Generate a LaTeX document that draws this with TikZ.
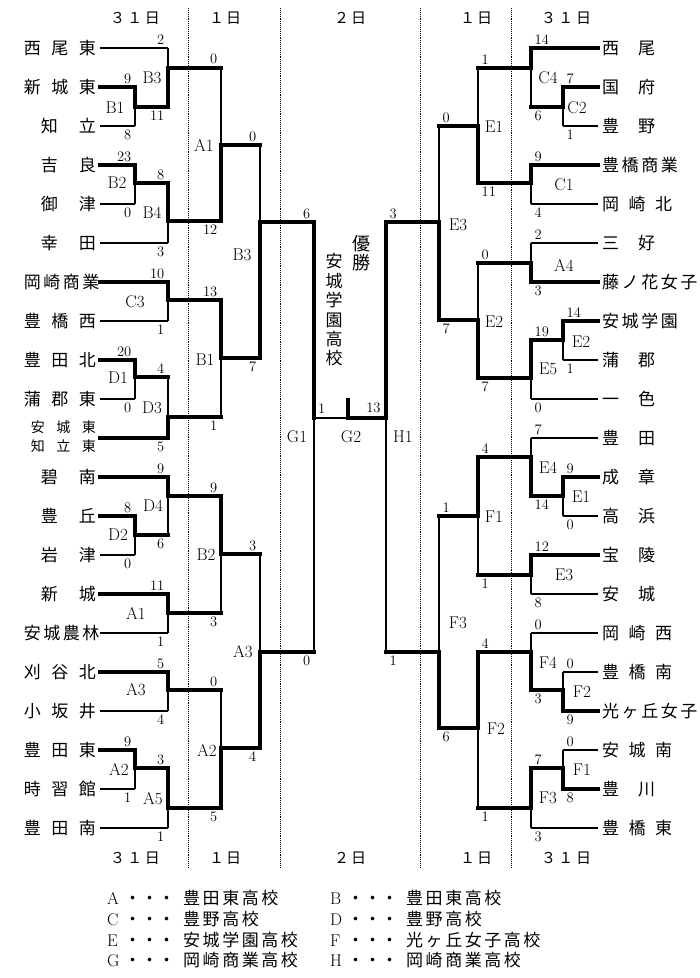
\documentclass[tikz,border=0pt]{standalone}
\usepackage{fontspec}
\usepackage{tikz}
\newfontfamily\jp{Noto Sans CJK JP}
\newcommand\spread[2]{\makebox[#1][s]{#2}}
\newcommand\twoline[2]{\begin{tabular}{@{}r@{}}#1\\#2\end{tabular}}
\newcommand\keyline[3]{\makebox[14pt][l]{#1}\hspace{3pt}{\jp ・・・}\hspace{8pt}{\jp\spread{#2}{#3}}}
% one leg of a bout: horizontal, then vertical into the bout, score at the corner
\newcommand\seg[6]{%
  \draw[#1] (#3) -- (#3 -| #4) coordinate (k-#3-#4);
  \draw[#2] (k-#3-#4) -- (#4);
  \node[score,anchor=#5] (s-#3-#4) at (k-#3-#4) {#6};}

\begin{document}
\begin{tikzpicture}[x=1pt,y=-1pt,
    heavy/.style={line width=4pt,line cap=rect},
    light/.style={line width=1.2pt},
    lname/.style={anchor=east,inner xsep=4pt,inner ysep=0pt,font=\jp\fontsize{17}{17}\selectfont},
    rname/.style={lname,anchor=west},
    score/.style={inner xsep=3.5pt,inner ysep=3.5pt,font=\fontsize{14.5}{14.5}\selectfont},
    mlabel/.style={inner sep=0pt,font=\fontsize{17}{17}\selectfont},
    day/.style={inner sep=0pt,font=\jp\fontsize{15}{15}\selectfont},
    sep/.style={densely dotted,line width=0.9pt},
    key/.style={anchor=west,inner sep=0pt,font=\fontsize{17}{17}\selectfont}
  ]
  \path[fill=white] (0,0) rectangle (700,978);

  % day columns
  \foreach \x in {188,280,420,511}
    \draw[sep] (\x,8) -- (\x,868);
  \foreach \y/\s in {18/t,858/b} {
    \node[day] (d31l\s) at (135,\y) {\spread{50pt}{３ １ 日}};
    \node[day] (d1l\s) at (225,\y) {\spread{32pt}{１ 日}};
    \node[day] (d2\s) at (350,\y) {\spread{32pt}{２ 日}};
    \node[day] (d1r\s) at (476,\y) {\spread{32pt}{１ 日}};
    \node[day] (d31r\s) at (566,\y) {\spread{50pt}{３ １ 日}};
  }

  % teams
  \foreach \t [count=\i from 0] in {{\spread{72pt}{西 尾 東}},{\spread{72pt}{新 城 東}},
      {\spread{55pt}{知 立}},{\spread{55pt}{吉 良}},{\spread{55pt}{御 津}},{\spread{55pt}{幸 田}},
      {\spread{72pt}{岡 崎 商 業}},{\spread{72pt}{豊 橋 西}},{\spread{72pt}{豊 田 北}},
      {\spread{72pt}{蒲 郡 東}},{\fontsize{14}{19}\selectfont\twoline{\spread{65pt}{安 城 東}}{\spread{65pt}{知 立 東}}},
      {\spread{55pt}{碧 南}},{\spread{55pt}{豊 丘}},{\spread{55pt}{岩 津}},{\spread{55pt}{新 城}},
      {\spread{72pt}{安 城 農 林}},{\spread{72pt}{刈 谷 北}},{\spread{72pt}{小 坂 井}},
      {\spread{72pt}{豊 田 東}},{\spread{72pt}{時 習 館}},{\spread{72pt}{豊 田 南}}}
    \node[lname] (l\i) at (100,48+39*\i) {\t};
  \foreach \t [count=\i from 0] in {{\spread{53pt}{西 尾}},{\spread{53pt}{国 府}},{\spread{53pt}{豊 野}},
      {\spread{73pt}{豊 橋 商 業}},{\spread{70pt}{岡 崎 北}},{\spread{53pt}{三 好}},
      {\spread{90pt}{藤 ノ 花 女 子}},{\spread{72pt}{安 城 学 園}},{\spread{53pt}{蒲 郡}},
      {\spread{53pt}{一 色}},{\spread{53pt}{豊 田}},{\spread{53pt}{成 章}},{\spread{53pt}{高 浜}},
      {\spread{53pt}{宝 陵}},{\spread{53pt}{安 城}},{\spread{70pt}{岡 崎 西}},{\spread{70pt}{豊 橋 南}},
      {\spread{81pt}{光 ヶ 丘 女 子}},{\spread{70pt}{安 城 南}},{\spread{53pt}{豊 川}},{\spread{70pt}{豊 橋 東}}}
    \node[rname] (r\i) at (598,48+39*\i) {\t};

  % bouts, left half
  \coordinate (lB1a) at (135,107);  \coordinate (lB2a) at (135,183);
  \coordinate (lB3a) at (168,68);   \coordinate (lB4a) at (168,221);
  \coordinate (lC3a) at (168,300);  \coordinate (lD1a) at (135,377);
  \coordinate (lD3a) at (168,417);  \coordinate (lD2a) at (135,535);
  \coordinate (lD4a) at (168,496);  \coordinate (lA1a) at (168,613);
  \coordinate (lA3a) at (168,690);  \coordinate (lA2a) at (135,768);
  \coordinate (lA5a) at (168,808);
  \coordinate (lA1b) at (221,145);  \coordinate (lB1b) at (221,358);
  \coordinate (lB2b) at (221,554);  \coordinate (lA2b) at (221,748);
  \coordinate (lB3b) at (260,222);  \coordinate (lA3b) at (260,652);
  \coordinate (G1) at (314,418);
  % bouts, right half
  \coordinate (rC2a) at (563,107);  \coordinate (rC4a) at (531,68);
  \coordinate (rC1a) at (531,183);  \coordinate (rA4a) at (531,263);
  \coordinate (rE2a) at (563,340);  \coordinate (rE5a) at (531,378);
  \coordinate (rE1a) at (563,496);  \coordinate (rE4a) at (531,457);
  \coordinate (rE3a) at (531,575);  \coordinate (rF2a) at (563,690);
  \coordinate (rF4a) at (531,652);  \coordinate (rF1a) at (563,768);
  \coordinate (rF3a) at (531,808);
  \coordinate (rE1b) at (478,126);  \coordinate (rE2b) at (478,320);
  \coordinate (rF1b) at (478,516);  \coordinate (rF2b) at (478,728);
  \coordinate (rE3b) at (439,222);  \coordinate (rF3b) at (439,652);
  \coordinate (H1) at (386,418);
  \coordinate (G2) at (348,418);    \coordinate (G2top) at (348,400);

  \seg{light}{light}{l0}{lB3a}{south east}{2}
  \seg{heavy}{heavy}{l1}{lB1a}{south east}{9}
  \seg{light}{light}{l2}{lB1a}{north east}{8}
  \seg{heavy}{heavy}{lB1a}{lB3a}{north east}{11}
  \seg{heavy}{heavy}{l3}{lB2a}{south east}{23}
  \seg{light}{light}{l4}{lB2a}{north east}{0}
  \seg{heavy}{heavy}{lB2a}{lB4a}{south east}{8}
  \seg{light}{light}{l5}{lB4a}{north east}{3}
  \seg{heavy}{light}{lB3a}{lA1b}{south east}{0}
  \seg{heavy}{heavy}{lB4a}{lA1b}{north east}{12}
  \seg{heavy}{heavy}{l6}{lC3a}{south east}{10}
  \seg{light}{light}{l7}{lC3a}{north east}{1}
  \seg{heavy}{heavy}{l8}{lD1a}{south east}{20}
  \seg{light}{light}{l9}{lD1a}{north east}{0}
  \seg{heavy}{light}{lD1a}{lD3a}{south east}{4}
  \seg{heavy}{heavy}{l10}{lD3a}{north east}{5}
  \seg{heavy}{heavy}{lC3a}{lB1b}{south east}{13}
  \seg{heavy}{light}{lD3a}{lB1b}{north east}{1}
  \seg{heavy}{light}{lA1b}{lB3b}{south east}{0}
  \seg{heavy}{heavy}{lB1b}{lB3b}{north east}{7}
  \seg{heavy}{heavy}{l11}{lD4a}{south east}{9}
  \seg{heavy}{heavy}{l12}{lD2a}{south east}{8}
  \seg{light}{light}{l13}{lD2a}{north east}{0}
  \seg{heavy}{light}{lD2a}{lD4a}{north east}{6}
  \seg{heavy}{heavy}{l14}{lA1a}{south east}{11}
  \seg{light}{light}{l15}{lA1a}{north east}{1}
  \seg{heavy}{heavy}{lD4a}{lB2b}{south east}{9}
  \seg{heavy}{light}{lA1a}{lB2b}{north east}{3}
  \seg{heavy}{heavy}{l16}{lA3a}{south east}{5}
  \seg{light}{light}{l17}{lA3a}{north east}{4}
  \seg{heavy}{heavy}{l18}{lA2a}{south east}{9}
  \seg{light}{light}{l19}{lA2a}{north east}{1}
  \seg{heavy}{heavy}{lA2a}{lA5a}{south east}{3}
  \seg{light}{light}{l20}{lA5a}{north east}{1}
  \seg{heavy}{light}{lA3a}{lA2b}{south east}{0}
  \seg{heavy}{heavy}{lA5a}{lA2b}{north east}{5}
  \seg{heavy}{light}{lB2b}{lA3b}{south east}{3}
  \seg{heavy}{heavy}{lA2b}{lA3b}{north east}{4}
  \seg{heavy}{heavy}{lB3b}{G1}{south east}{6}
  \seg{heavy}{light}{lA3b}{G1}{north east}{0}

  \seg{heavy}{heavy}{r0}{rC4a}{south west}{14}
  \seg{heavy}{heavy}{r1}{rC2a}{south west}{7}
  \seg{light}{light}{r2}{rC2a}{north west}{1}
  \seg{heavy}{light}{rC2a}{rC4a}{north west}{6}
  \seg{heavy}{heavy}{r3}{rC1a}{south west}{9}
  \seg{light}{light}{r4}{rC1a}{north west}{4}
  \seg{heavy}{light}{rC4a}{rE1b}{south west}{1}
  \seg{heavy}{heavy}{rC1a}{rE1b}{north west}{11}
  \seg{light}{light}{r5}{rA4a}{south west}{2}
  \seg{heavy}{heavy}{r6}{rA4a}{north west}{3}
  \seg{heavy}{heavy}{r7}{rE2a}{south west}{14}
  \seg{light}{light}{r8}{rE2a}{north west}{1}
  \seg{heavy}{heavy}{rE2a}{rE5a}{south west}{19}
  \seg{light}{light}{r9}{rE5a}{north west}{0}
  \seg{heavy}{light}{rA4a}{rE2b}{south west}{0}
  \seg{heavy}{heavy}{rE5a}{rE2b}{north west}{7}
  \seg{heavy}{light}{rE1b}{rE3b}{south west}{0}
  \seg{heavy}{heavy}{rE2b}{rE3b}{north west}{7}
  \seg{light}{light}{r10}{rE4a}{south west}{7}
  \seg{heavy}{heavy}{r11}{rE1a}{south west}{9}
  \seg{light}{light}{r12}{rE1a}{north west}{0}
  \seg{heavy}{heavy}{rE1a}{rE4a}{north west}{14}
  \seg{heavy}{heavy}{r13}{rE3a}{south west}{12}
  \seg{light}{light}{r14}{rE3a}{north west}{8}
  \seg{heavy}{heavy}{rE4a}{rF1b}{south west}{4}
  \seg{heavy}{light}{rE3a}{rF1b}{north west}{1}
  \seg{light}{light}{r15}{rF4a}{south west}{0}
  \seg{light}{light}{r16}{rF2a}{south west}{0}
  \seg{heavy}{heavy}{r17}{rF2a}{north west}{9}
  \seg{heavy}{heavy}{rF2a}{rF4a}{north west}{3}
  \seg{light}{light}{r18}{rF1a}{south west}{0}
  \seg{heavy}{heavy}{r19}{rF1a}{north west}{8}
  \seg{heavy}{heavy}{rF1a}{rF3a}{south west}{7}
  \seg{light}{light}{r20}{rF3a}{north west}{3}
  \seg{heavy}{heavy}{rF4a}{rF2b}{south west}{4}
  \seg{heavy}{light}{rF3a}{rF2b}{north west}{1}
  \seg{heavy}{light}{rF1b}{rF3b}{south west}{1}
  \seg{heavy}{heavy}{rF2b}{rF3b}{north west}{6}
  \seg{heavy}{heavy}{rE3b}{H1}{south west}{3}
  \seg{heavy}{light}{rF3b}{H1}{north west}{1}

  % final
  \draw[light] (G1) -- (G2) node[score,pos=0,anchor=south west] (sG1) {1};
  \draw[heavy] (H1) -| (G2top) node[score,pos=0,anchor=south east] (sH1) {13};
  \node[inner sep=0pt,align=center,font=\jp\fontsize{18}{19}\selectfont] (champ) at (361,253) {優\\勝};
  \node[inner sep=0pt,align=center,font=\jp\fontsize{17}{19.4}\selectfont] (winner) at (334,310) {安\\城\\学\\園\\高\\校};

  % bout labels
  \foreach \x/\y/\t [count=\i] in {152/78/B3,115/108/B1,117/183/B2,152/213/B4,204/145/A1,242/255/B3,
      135/302/C3,118/378/D1,152/408/D3,205/360/B1,153/506/D4,118/535/D2,206/555/B2,136/613/A1,
      136/690/A3,243/652/A3,207/750/A2,119/769/A2,153/799/A5,297/437/G1,351/437/G2,403/437/H1,
      548/78/C4,577/108/C2,494/127/E1,564/185/C1,458/225/E3,564/265/A4,494/322/E2,581/342/E2,
      548/369/E5,548/468/E4,581/497/E1,494/517/F1,564/575/E3,458/623/F3,548/663/F4,582/692/F2,
      496/729/F2,582/770/F1,548/798/F3}
    \node[mlabel] (bout\i) at (\x,\y) {\t};

  % key
  \node[key] (keyA) at (107,898) {\keyline{A}{90pt}{豊 田 東 高 校}};
  \node[key] (keyB) at (330,898) {\keyline{B}{91pt}{豊 田 東 高 校}};
  \node[key] (keyC) at (107,919) {\keyline{C}{72pt}{豊 野 高 校}};
  \node[key] (keyD) at (330,919) {\keyline{D}{71pt}{豊 野 高 校}};
  \node[key] (keyE) at (107,940) {\keyline{E}{110pt}{安 城 学 園 高 校}};
  \node[key] (keyF) at (330,940) {\keyline{F}{128pt}{光 ヶ 丘 女 子 高 校}};
  \node[key] (keyG) at (107,960) {\keyline{G}{110pt}{岡 崎 商 業 高 校}};
  \node[key] (keyH) at (330,960) {\keyline{H}{110pt}{岡 崎 商 業 高 校}};
\end{tikzpicture}
\end{document}
